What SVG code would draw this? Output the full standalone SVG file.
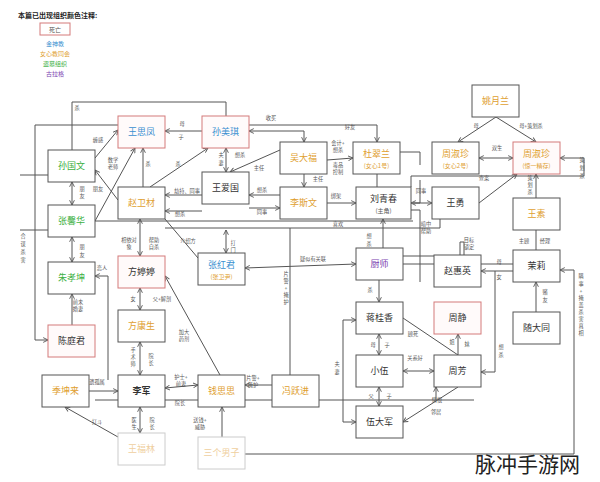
<svg xmlns="http://www.w3.org/2000/svg" width="600" height="482" viewBox="0 0 600 482">
<defs>
<marker id="a" viewBox="0 0 10 10" refX="9" refY="5" markerWidth="6" markerHeight="6" orient="auto-start-reverse"><path d="M1,1 L9,5 L1,9" fill="none" stroke="#555" stroke-width="1.5"/></marker>
<style>
text{font-family:"Noto Sans CJK SC","Noto Sans",sans-serif}
.n rect{fill:#fff;stroke:#555;stroke-width:1}
.n.d rect{stroke:#d47a7a;fill:#fffafa}
.n.f rect{stroke:#ccc}
.t{font-size:9px;text-anchor:middle;fill:#333}
.s{font-size:6px;text-anchor:middle}
.b{fill:#3a8fd0}.o{fill:#e0a030}.g{fill:#3cb043}.p{fill:#7a3fb0}.fo{fill:#efcfa0}
.l{font-size:5.2px;fill:#555;text-anchor:middle}
#c path,#c line{fill:none;stroke:#555;stroke-width:1}
</style>
</defs>
<rect width="600" height="482" fill="#fff"/>
<text x="18" y="18" font-size="7" font-weight="bold" fill="#222">本篇已出现组织颜色注释:</text>
<rect x="40" y="23" width="30" height="12" fill="#fff" stroke="#d47a7a"/>
<text x="55" y="32" class="s" fill="#555">死亡</text>
<text x="55" y="46" class="s b">金神教</text>
<text x="55" y="56" class="s o">女心教同会</text>
<text x="55" y="66" class="s g">盗墓组织</text>
<text x="55" y="76" class="s p">古拉格</text>

<g id="c">
<path d="M72,150 V102 H226 V116"/>
<path d="M35,340 V125 H118"/>
<path d="M35,340 H48" marker-end="url(#a)"/>
<line x1="95" y1="158" x2="118" y2="130" marker-end="url(#a)"/>
<line x1="165" y1="131" x2="202" y2="131" marker-start="url(#a)"/>
<line x1="150" y1="187" x2="208" y2="148" marker-end="url(#a)"/>
<line x1="143" y1="187" x2="143" y2="148" marker-end="url(#a)"/>
<line x1="95" y1="221" x2="135" y2="148" marker-end="url(#a)"/>
<line x1="95" y1="170" x2="118" y2="200" marker-start="url(#a)"/>
<line x1="72" y1="182" x2="72" y2="205" marker-start="url(#a)" marker-end="url(#a)"/>
<line x1="72" y1="237" x2="72" y2="262" marker-start="url(#a)" marker-end="url(#a)"/>
<line x1="72" y1="325" x2="72" y2="294" marker-end="url(#a)"/>
<path d="M20,175 H48"/><path d="M20,230 H48"/>
<path d="M108,380 V276 H95" marker-end="url(#a)"/>
<line x1="226" y1="148" x2="226" y2="172" marker-start="url(#a)" marker-end="url(#a)"/>
<line x1="280" y1="150" x2="230" y2="172" marker-end="url(#a)"/>
<path d="M249,131 H304 V142" marker-start="url(#a)" marker-end="url(#a)"/>
<path d="M249,125 H377 V142" marker-end="url(#a)"/>
<line x1="327" y1="160" x2="353" y2="158" marker-end="url(#a)"/>
<line x1="304" y1="174" x2="304" y2="187" marker-end="url(#a)"/>
<line x1="165" y1="195" x2="202" y2="195" marker-start="url(#a)"/>
<line x1="165" y1="211" x2="202" y2="211" marker-start="url(#a)"/>
<line x1="249" y1="195" x2="280" y2="195" marker-start="url(#a)"/>
<line x1="249" y1="208" x2="280" y2="208" marker-end="url(#a)"/>
<line x1="327" y1="203" x2="356" y2="203" marker-end="url(#a)"/>
<path d="M377,174 V187"/>
<path d="M95,221 H413"/>
<line x1="226" y1="230" x2="226" y2="253" marker-start="url(#a)" marker-end="url(#a)"/>
<path d="M165,228 H440 V187"/>
<line x1="383" y1="248" x2="383" y2="219" marker-end="url(#a)"/>
<line x1="411" y1="203" x2="432" y2="203" marker-start="url(#a)" marker-end="url(#a)"/>
<path d="M413,203 H420 V180"/>
<path d="M400,152 H420 V165"/>
<path d="M411,210 H420 V282"/>
<path d="M403,256 H460 V242 H464 V255"/>
<line x1="140" y1="219" x2="140" y2="256" marker-start="url(#a)" marker-end="url(#a)"/>
<line x1="165" y1="219" x2="198" y2="258"/>
<line x1="245" y1="268" x2="356" y2="264" marker-start="url(#a)" marker-end="url(#a)"/>
<path d="M290,375 V228"/>
<line x1="379" y1="280" x2="379" y2="302" marker-end="url(#a)"/>
<line x1="140" y1="288" x2="140" y2="310" marker-start="url(#a)" marker-end="url(#a)"/>
<line x1="140" y1="342" x2="140" y2="375" marker-start="url(#a)" marker-end="url(#a)"/>
<line x1="220" y1="375" x2="165" y2="276" marker-end="url(#a)"/>
<line x1="89" y1="391" x2="118" y2="391" marker-end="url(#a)"/>
<line x1="165" y1="388" x2="198" y2="385" marker-start="url(#a)" marker-end="url(#a)"/>
<path d="M95,400 H474"/>
<line x1="272" y1="385" x2="245" y2="385" marker-end="url(#a)"/>
<line x1="118" y1="437" x2="65" y2="407" marker-end="url(#a)"/>
<line x1="140" y1="407" x2="140" y2="433" marker-start="url(#a)" marker-end="url(#a)"/>
<line x1="222" y1="437" x2="222" y2="407" marker-end="url(#a)"/>
<path d="M245,454 H574 V270 H560" marker-end="url(#a)"/>
<line x1="379" y1="334" x2="379" y2="355" marker-start="url(#a)" marker-end="url(#a)"/>
<line x1="379" y1="387" x2="379" y2="406" marker-start="url(#a)" marker-end="url(#a)"/>
<path d="M356,320 H343 V422 H356" marker-start="url(#a)" marker-end="url(#a)"/>
<line x1="403" y1="318" x2="458" y2="355"/>
<line x1="458" y1="355" x2="458" y2="334" marker-end="url(#a)"/>
<line x1="403" y1="371" x2="434" y2="371" marker-start="url(#a)" marker-end="url(#a)"/>
<line x1="458" y1="387" x2="403" y2="422" marker-end="url(#a)"/>
<path d="M436,400 V387" marker-end="url(#a)"/>
<path d="M403,264 H530"/>
<line x1="513" y1="271" x2="481" y2="271" marker-end="url(#a)"/>
<path d="M495,271 V372 H481" marker-end="url(#a)"/>
<line x1="536" y1="312" x2="536" y2="282" marker-end="url(#a)"/>
<line x1="536" y1="250" x2="536" y2="230" />
<line x1="536" y1="198" x2="536" y2="174" marker-end="url(#a)"/>
<line x1="496" y1="117" x2="458" y2="142" marker-end="url(#a)"/>
<line x1="496" y1="117" x2="536" y2="142" marker-end="url(#a)"/>
<line x1="479" y1="158" x2="513" y2="158" marker-start="url(#a)" marker-end="url(#a)"/>
<line x1="479" y1="203" x2="517" y2="174" marker-end="url(#a)"/>
<path d="M411,187 V176 H584 V158 H560" marker-end="url(#a)"/>
</g>

<g id="n1" class="n d"><rect x="118" y="116" width="47" height="32"/><text x="141.5" y="135" class="t b">王思凤</text></g>
<g id="n2" class="n d"><rect x="202" y="116" width="47" height="32"/><text x="225.5" y="135" class="t b">孙美琪</text></g>
<g id="n3" class="n"><rect x="48" y="150" width="47" height="32"/><text x="71.5" y="169" class="t g">孙国文</text></g>
<g id="n4" class="n"><rect x="48" y="205" width="47" height="32"/><text x="71.5" y="224" class="t g">张馨华</text></g>
<g id="n5" class="n"><rect x="48" y="262" width="47" height="32"/><text x="71.5" y="281" class="t g">朱孝坤</text></g>
<g id="n6" class="n d"><rect x="48" y="325" width="47" height="32"/><text x="71.5" y="344" class="t">陈庭君</text></g>
<g id="n7" class="n"><rect x="118" y="187" width="47" height="32"/><text x="141.5" y="206" class="t o">赵卫材</text></g>
<g id="n8" class="n"><rect x="202" y="172" width="47" height="32"/><text x="225.5" y="191" class="t">王爱国</text></g>
<g id="n9" class="n"><rect x="280" y="142" width="47" height="32"/><text x="303.5" y="161" class="t o">吴大福</text></g>
<g id="n10" class="n"><rect x="280" y="187" width="47" height="32"/><text x="303.5" y="206" class="t o">李斯文</text></g>
<g id="n11" class="n"><rect x="353" y="142" width="47" height="32"/><text x="376.5" y="157" class="t o">杜翠兰</text><text x="376.5" y="168" class="s o">(女心1号)</text></g>
<g id="n12" class="n"><rect x="356" y="187" width="55" height="32"/><text x="383.5" y="202" class="t">刘青春</text><text x="383.5" y="213" class="s" fill="#555">(主角)</text></g>
<g id="n13" class="n"><rect x="432" y="187" width="47" height="32"/><text x="455.5" y="206" class="t">王勇</text></g>
<g id="n14" class="n"><rect x="472" y="85" width="47" height="32"/><text x="495.5" y="104" class="t o">姚月兰</text></g>
<g id="n15" class="n"><rect x="432" y="142" width="47" height="32"/><text x="455.5" y="157" class="t o">周淑珍</text><text x="455.5" y="168" class="s o">(女心2号)</text></g>
<g id="n16" class="n d"><rect x="513" y="142" width="47" height="32"/><text x="536.5" y="157" class="t o">周淑珍</text><text x="536.5" y="168" class="s o">(惊一精存)</text></g>
<g id="n17" class="n"><rect x="513" y="198" width="47" height="32"/><text x="536.5" y="217" class="t o">王素</text></g>
<g id="n18" class="n"><rect x="513" y="250" width="47" height="32"/><text x="536.5" y="269" class="t">茉莉</text></g>
<g id="n19" class="n"><rect x="513" y="312" width="47" height="32"/><text x="536.5" y="331" class="t">随大同</text></g>
<g id="n20" class="n"><rect x="434" y="255" width="47" height="32"/><text x="457.5" y="274" class="t">赵惠英</text></g>
<g id="n21" class="n d"><rect x="434" y="302" width="47" height="32"/><text x="457.5" y="321" class="t">周静</text></g>
<g id="n22" class="n"><rect x="434" y="355" width="47" height="32"/><text x="457.5" y="374" class="t">周芳</text></g>
<g id="n23" class="n"><rect x="356" y="248" width="47" height="32"/><text x="379.5" y="267" class="t p">厨师</text></g>
<g id="n24" class="n"><rect x="356" y="302" width="47" height="32"/><text x="379.5" y="321" class="t">蒋桂香</text></g>
<g id="n25" class="n"><rect x="356" y="355" width="47" height="32"/><text x="379.5" y="374" class="t">小伍</text></g>
<g id="n26" class="n"><rect x="356" y="406" width="47" height="32"/><text x="379.5" y="425" class="t">伍大军</text></g>
<g id="n27" class="n"><rect x="198" y="253" width="47" height="32"/><text x="221.5" y="268" class="t b">张红君</text><text x="221.5" y="279" class="s o">(张卫尹)</text></g>
<g id="n28" class="n d"><rect x="118" y="256" width="47" height="32"/><text x="141.5" y="275" class="t">方婷婷</text></g>
<g id="n29" class="n"><rect x="118" y="310" width="47" height="32"/><text x="141.5" y="329" class="t o">方康生</text></g>
<g id="n30" class="n"><rect x="118" y="375" width="47" height="32"/><text x="141.5" y="394" class="t" font-weight="bold">李军</text></g>
<g id="n31" class="n"><rect x="42" y="375" width="47" height="32"/><text x="65.5" y="394" class="t o">季坤来</text></g>
<g id="n32" class="n f"><rect x="118" y="433" width="47" height="32"/><text x="141.5" y="452" class="t fo">王福林</text></g>
<g id="n33" class="n"><rect x="198" y="375" width="47" height="32"/><text x="221.5" y="394" class="t o">钱思思</text></g>
<g id="n34" class="n"><rect x="272" y="375" width="47" height="32"/><text x="295.5" y="394" class="t o">冯跃进</text></g>
<g id="n35" class="n f"><rect x="198" y="437" width="47" height="32"/><text x="221.5" y="456" class="t fo">三个男子</text></g>

<g id="labels">
<text x="98" y="142" class="l">缠感</text>
<text x="77" y="110" class="l">杀</text>
<text x="182" y="126" class="l">母</text><text x="181" y="139" class="l">子</text>
<text x="113" y="162" class="l">数学</text><text x="113" y="169" class="l">老师</text>
<text x="148" y="166" class="l">杀</text><text x="178" y="166" class="l">杀</text>
<text x="82" y="191" class="l">朋</text><text x="82" y="198" class="l">友</text><text x="98" y="191" class="l">朋友</text>
<text x="82" y="249" class="l">朋</text><text x="82" y="257" class="l">友</text>
<text x="102" y="270" class="l">恋人</text>
<text x="78" y="304" class="l">前未</text><text x="78" y="311" class="l">婚妻</text>
<text x="23" y="238" class="l">合</text><text x="23" y="246" class="l">谋</text><text x="23" y="254" class="l">杀</text><text x="23" y="262" class="l">害</text>
<text x="221" y="157" class="l">夫</text><text x="221" y="165" class="l">妻</text>
<text x="240" y="157" class="l">想杀</text><text x="259" y="170" class="l">主任</text>
<text x="271" y="120" class="l">收买</text><text x="350" y="129" class="l">好友</text>
<text x="338" y="145" class="l">会计+</text><text x="338" y="152" class="l">想杀</text>
<text x="338" y="167" class="l">毒品</text><text x="338" y="174" class="l">控制</text>
<text x="318" y="181" class="l">主任</text>
<text x="187" y="193" class="l">劫持、同事</text><text x="180" y="216" class="l">想杀</text>
<text x="262" y="192" class="l">想杀</text><text x="262" y="214" class="l">同事</text>
<text x="336" y="198" class="l">绑架</text><text x="338" y="226" class="l">喜欢</text>
<text x="369" y="238" class="l">想</text><text x="369" y="246" class="l">杀</text>
<text x="421" y="193" class="l">同事</text>
<text x="426" y="226" class="l">暗中</text><text x="426" y="233" class="l">帮助</text>
<text x="469" y="242" class="l">目标</text><text x="469" y="249" class="l">锁定</text>
<text x="499" y="264" class="l">母</text><text x="499" y="279" class="l">女</text>
<text x="501" y="349" class="l">想</text><text x="501" y="357" class="l">杀</text>
<text x="476" y="128" class="l">母</text><text x="531" y="128" class="l">母+策划杀</text>
<text x="497" y="150" class="l">双生</text><text x="484" y="180" class="l">查案</text>
<text x="582" y="162" class="l">策</text><text x="582" y="170" class="l">划</text><text x="582" y="178" class="l">杀</text>
<text x="530" y="180" class="l">策</text><text x="530" y="187" class="l">划</text><text x="530" y="194" class="l">杀</text>
<text x="524" y="243" class="l">主顾</text><text x="545" y="243" class="l">经理</text>
<text x="545" y="294" class="l">赌</text><text x="545" y="302" class="l">友</text>
<text x="581" y="278" class="l">瞒</text><text x="581" y="286" class="l">事</text><text x="581" y="293" class="l">+</text><text x="581" y="300" class="l">掩</text><text x="581" y="307" class="l">盖</text><text x="581" y="314" class="l">杀</text><text x="581" y="321" class="l">害</text><text x="581" y="328" class="l">真</text><text x="581" y="335" class="l">相</text>
<text x="188" y="243" class="l">介绍方</text>
<text x="233" y="245" class="l">打</text><text x="233" y="252" class="l">门</text>
<text x="129" y="242" class="l">相依对</text><text x="129" y="249" class="l">象</text>
<text x="154" y="242" class="l">帮助</text><text x="154" y="249" class="l">自杀</text>
<text x="313" y="261" class="l">疑似有关联</text>
<text x="286" y="276" class="l">片</text><text x="286" y="283" class="l">警</text><text x="286" y="290" class="l">+</text><text x="286" y="297" class="l">掩</text><text x="286" y="304" class="l">护</text>
<text x="370" y="292" class="l">杀</text>
<text x="133" y="301" class="l">女</text><text x="162" y="301" class="l">父+解剖</text>
<text x="184" y="334" class="l">加大</text><text x="184" y="341" class="l">药剂</text>
<text x="133" y="352" class="l">手</text><text x="133" y="359" class="l">术</text><text x="133" y="366" class="l">师</text>
<text x="151" y="358" class="l">院</text><text x="151" y="365" class="l">长</text>
<text x="97" y="384" class="l">遗孤属</text>
<text x="181" y="379" class="l">护士+</text><text x="181" y="386" class="l">前妻</text>
<text x="180" y="405" class="l">院长</text>
<text x="253" y="380" class="l">片警+</text><text x="253" y="387" class="l">掩护</text>
<text x="97" y="424" class="l">打斗</text>
<text x="134" y="422" class="l">医</text><text x="134" y="429" class="l">生</text>
<text x="152" y="422" class="l">院</text><text x="152" y="429" class="l">长</text>
<text x="200" y="422" class="l">送钱+</text><text x="200" y="429" class="l">威胁</text>
<text x="373" y="347" class="l">母</text><text x="387" y="347" class="l">子</text>
<text x="371" y="398" class="l">父</text><text x="389" y="398" class="l">子</text>
<text x="337" y="366" class="l">夫</text><text x="337" y="374" class="l">妻</text>
<text x="413" y="336" class="l">顾死</text>
<text x="452" y="344" class="l">姐</text><text x="467" y="346" class="l">妹</text>
<text x="415" y="360" class="l">关系好</text>
<text x="437" y="402" class="l">情恨</text><text x="436" y="414" class="l">邻居</text>
</g>
<text x="475" y="472" font-size="21" fill="#222">脉冲手游网</text>
</svg>
